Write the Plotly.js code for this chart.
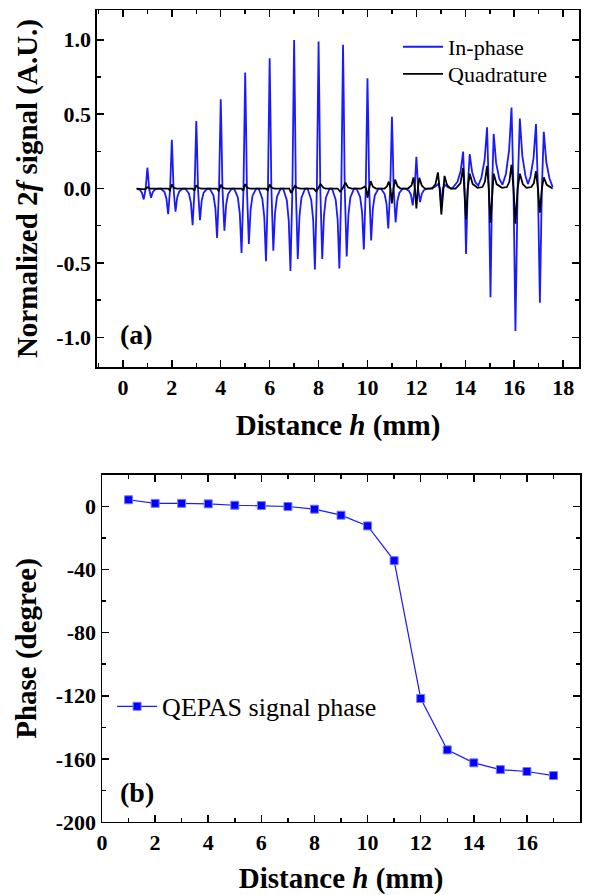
<!DOCTYPE html>
<html>
<head>
<meta charset="utf-8">
<script src="https://cdn.plot.ly/plotly-3.0.1.min.js"></script>
<style>
html,body{margin:0;padding:0;background:#fff;}
#chart{width:590px;height:895px;}
</style>
</head>
<body>
<div id="chart"></div>
<script>
// ---------- Panel (a): normalized 2f signal vs distance ----------
const inPhaseX = [
  0.56, 0.7, 0.78, 0.85, 0.93, 0.97, 1, 1.03, 1.07, 1.15, 1.22, 1.3, 1.45,
  1.55, 1.7, 1.78, 1.85, 1.93, 1.97, 2, 2.03, 2.07, 2.15, 2.22, 2.3, 2.45,
  2.55, 2.7, 2.78, 2.85, 2.93, 2.97, 3, 3.03, 3.07, 3.15, 3.22, 3.3, 3.45,
  3.55, 3.7, 3.78, 3.85, 3.93, 3.97, 4, 4.03, 4.07, 4.15, 4.22, 4.3, 4.45,
  4.55, 4.7, 4.78, 4.85, 4.93, 4.97, 5, 5.03, 5.07, 5.15, 5.22, 5.3, 5.45,
  5.55, 5.7, 5.78, 5.85, 5.93, 5.97, 6, 6.03, 6.07, 6.15, 6.22, 6.3, 6.45,
  6.55, 6.7, 6.78, 6.85, 6.93, 6.97, 7, 7.03, 7.07, 7.15, 7.22, 7.3, 7.45,
  7.55, 7.7, 7.78, 7.85, 7.93, 7.97, 8, 8.03, 8.07, 8.15, 8.22, 8.3, 8.45,
  8.55, 8.7, 8.78, 8.85, 8.93, 8.97, 9, 9.03, 9.07, 9.15, 9.22, 9.3, 9.45,
  9.55, 9.7, 9.78, 9.85, 9.93, 9.97, 10, 10.03, 10.07, 10.15, 10.22, 10.3, 10.45,
  10.55, 10.7, 10.78, 10.85, 10.93, 10.97, 11, 11.03, 11.07, 11.15, 11.22, 11.3, 11.45,
  11.55, 11.7, 11.78, 11.85, 11.93, 11.97, 12, 12.03, 12.07, 12.15, 12.22, 12.3, 12.45,
  12.55, 12.75, 12.89, 12.96, 13.02, 13.08, 13.15, 13.3, 13.46,
  13.68, 13.81, 13.91, 13.97, 14.03, 14.1, 14.18, 14.28, 14.41, 14.53,
  14.66, 14.79, 14.89, 14.96, 15.03, 15.095, 15.16, 15.26, 15.39, 15.52,
  15.66, 15.79, 15.89, 15.97, 16.05, 16.14, 16.23, 16.33, 16.46, 16.56,
  16.66, 16.79, 16.89, 16.97, 17.05, 17.13, 17.21, 17.31, 17.44, 17.57
];
const inPhaseY = [
  0, -0.01, -0.03, -0.073, 0, 0.09, 0.14, 0.09, 0, -0.062, -0.025, -0.008, 0,
  0, -0.024, -0.068, -0.173, 0, 0.2, 0.327, 0.2, 0, -0.156, -0.06, -0.02, 0,
  0, -0.034, -0.096, -0.247, 0, 0.28, 0.453, 0.28, 0, -0.213, -0.083, -0.028, 0,
  0, -0.046, -0.13, -0.333, 0, 0.37, 0.6, 0.37, 0, -0.284, -0.11, -0.037, 0,
  0, -0.06, -0.17, -0.433, 0, 0.48, 0.78, 0.48, 0, -0.373, -0.145, -0.048, 0,
  0, -0.068, -0.19, -0.489, 0, 0.54, 0.875, 0.54, 0, -0.418, -0.163, -0.055, 0,
  0, -0.077, -0.216, -0.555, 0, 0.62, 0.998, 0.62, 0, -0.473, -0.184, -0.062, 0,
  0, -0.076, -0.212, -0.544, 0, 0.61, 0.989, 0.61, 0, -0.473, -0.184, -0.062, 0,
  0, -0.075, -0.21, -0.538, 0, 0.6, 0.967, 0.6, 0, -0.456, -0.178, -0.06, 0,
  0, -0.057, -0.16, -0.409, 0, 0.46, 0.742, 0.46, 0, -0.349, -0.136, -0.046, 0,
  0, -0.037, -0.105, -0.269, 0, 0.3, 0.482, 0.3, 0, -0.227, -0.088, -0.03, 0,
  0, -0.016, -0.044, -0.113, 0, 0.13, 0.213, 0.13, 0, -0.091, -0.035, -0.012, 0,
  0, 0.01, 0.03, 0, -0.12, 0, 0.025, 0.008, 0,
  0.045, 0.117, 0.249, 0, -0.44, 0, 0.231, 0.109, 0.042, 0.02,
  0.074, 0.193, 0.411, 0, -0.731, 0, 0.367, 0.172, 0.066, 0.025,
  0.098, 0.256, 0.544, 0, -0.958, 0, 0.471, 0.221, 0.085, 0.03,
  0.078, 0.204, 0.433, 0, -0.767, 0, 0.382, 0.18, 0.069, 0.01
];
const quadX = [
  0.56,
  0.9, 1.0, 1.1,
  1.85, 1.92, 2.0, 2.08, 2.2,
  2.85, 2.92, 3.0, 3.08, 3.2,
  3.85, 3.92, 4.0, 4.08, 4.2,
  4.85, 4.92, 5.0, 5.08, 5.2,
  5.85, 5.92, 6.0, 6.08, 6.2,
  6.8, 6.88, 6.96, 7.03, 7.12, 7.25,
  7.8, 7.9, 7.98, 8.08, 8.2, 8.3,
  8.78, 8.88, 8.98, 9.1, 9.2, 9.35,
  9.75, 9.88, 9.95, 10.0, 10.07, 10.13, 10.22, 10.35,
  10.7, 10.8, 10.87, 10.94, 11.0, 11.06, 11.13, 11.22, 11.35,
  11.65, 11.8, 11.88, 11.94, 12.0, 12.06, 12.12, 12.22, 12.35,
  12.65, 12.78, 12.88, 12.95, 13.02, 13.09, 13.15, 13.25, 13.4,
  13.6, 13.8, 13.91, 13.97, 14.03, 14.1, 14.18, 14.3, 14.5,
  14.7, 14.8, 14.89, 14.96, 15.03, 15.1, 15.16, 15.28, 15.5,
  15.7, 15.8, 15.89, 15.97, 16.05, 16.14, 16.23, 16.35, 16.5,
  16.7, 16.8, 16.89, 16.97, 17.05, 17.13, 17.21, 17.33, 17.57
];
const quadY = [
  0,
  -0.005, 0.008, 0,
  0, -0.012, 0.027, 0.005, 0,
  0, -0.015, 0.022, 0.005, 0,
  0, -0.018, 0.025, 0.005, 0,
  0, -0.015, 0.03, 0.005, 0,
  0, -0.015, 0.027, 0.005, 0,
  0, -0.03, 0, 0.018, 0.005, 0,
  0, -0.018, 0, 0.03, 0.005, 0,
  0, -0.02, 0, 0.04, 0.008, 0,
  0, 0.012, 0, -0.062, 0, 0.05, 0.012, 0,
  0, 0.015, 0.046, 0, -0.1, 0, 0.06, 0.018, 0,
  0, 0.02, 0.075, 0, -0.133, 0, 0.072, 0.02, 0,
  0, 0.03, 0.108, 0, -0.175, 0, 0.085, 0.025, 0,
  0, 0.035, 0.138, 0, -0.207, 0, 0.1, 0.03, 0.005,
  0.01, 0.045, 0.153, 0, -0.229, 0, 0.1, 0.03, 0.005,
  0.01, 0.045, 0.16, 0, -0.236, 0, 0.1, 0.03, 0.005,
  0.01, 0.035, 0.116, 0, -0.162, 0, 0.075, 0.025, 0
];
const yTickValsA = [-1.0, -0.5, 0.0, 0.5, 1.0];
const yTickTextA = ['-1.0', '-0.5', '0.0', '0.5', '1.0'];

// ---------- Panel (b): QEPAS signal phase ----------
const distance = [1, 2, 3, 4, 5, 6, 7, 8, 9, 10, 11, 12, 13, 14, 15, 16, 17];
const phaseDeg = [4.3, 2, 2, 1.7, 0.8, 0.6, 0, -1.7, -5.5, -12.3, -34.3, -121.7, -154.3, -162.5, -166.8, -168, -170.6];
const yTickValsB = [-200, -160, -120, -80, -40, 0];
const yTickTextB = ['-200', '-160', '-120', '-80', '-40', '0'];
const xTickVals = [0, 2, 4, 6, 8, 10, 12, 14, 16, 18];

const FONT = 'Liberation Serif';
const BLUE = '#1a1aff';

const traces = [
  {x: inPhaseX, y: inPhaseY, xaxis: 'x', yaxis: 'y', type: 'scatter', mode: 'lines',
   name: 'In-phase', line: {color: BLUE, width: 1.8}, legend: 'legend'},
  {x: quadX, y: quadY, xaxis: 'x', yaxis: 'y', type: 'scatter', mode: 'lines',
   name: 'Quadrature', line: {color: '#000000', width: 1.8}, legend: 'legend3'},
  {x: distance, y: phaseDeg, xaxis: 'x2', yaxis: 'y2', type: 'scatter', mode: 'lines+markers',
   name: 'QEPAS signal phase', line: {color: BLUE, width: 1.2},
   marker: {symbol: 'square', size: 8, color: '#0000ff', line: {color: '#7a7aff', width: 1}},
   legend: 'legend2'}
];

const tickFont = {family: FONT, size: 22, color: '#000', weight: 'bold'};
const titleFont = {family: FONT, size: 29, color: '#000', weight: 'bold'};
const axisCommon = {
  showline: true, linecolor: '#000', linewidth: 1.5, mirror: 'ticks',
  ticks: 'inside', ticklen: 7, tickwidth: 1.5, tickcolor: '#000',
  showgrid: false, zeroline: false, tickfont: tickFont
};
const legendCommon = {
  xanchor: 'left', yanchor: 'top', bgcolor: 'rgba(0,0,0,0)', borderwidth: 0, itemwidth: 40
};

const layout = {
  width: 590, height: 895,
  margin: {l: 0, r: 0, t: 0, b: 0},
  paper_bgcolor: '#fff', plot_bgcolor: '#fff',
  font: {family: FONT, color: '#000'},
  showlegend: true,
  xaxis: Object.assign({}, axisCommon, {
    domain: [0.1644, 0.9814], anchor: 'y', range: [-1.06, 18.65],
    tickvals: xTickVals, ticktext: xTickVals.map(String),
    minor: {ticks: 'inside', ticklen: 4, tickwidth: 1.5, tickcolor: '#000', dtick: 1, tick0: 0},
    title: {text: 'Distance <i>h</i> (mm)', font: titleFont, standoff: 16}
  }),
  yaxis: Object.assign({}, axisCommon, {
    domain: [0.5899, 0.9888], anchor: 'x', range: [-1.2, 1.2],
    tickvals: yTickValsA, ticktext: yTickTextA,
    minor: {ticks: 'inside', ticklen: 4, tickwidth: 1.5, tickcolor: '#000', dtick: 0.25, tick0: 0},
    title: {text: 'Normalized 2<i>f</i> signal (A.U.)', font: titleFont, standoff: 10}
  }),
  xaxis2: Object.assign({}, axisCommon, {
    domain: [0.1729, 0.9831], anchor: 'y2', range: [0, 18],
    tickvals: xTickVals, ticktext: xTickVals.map(String),
    minor: {ticks: 'inside', ticklen: 4, tickwidth: 1.5, tickcolor: '#000', dtick: 1, tick0: 0},
    title: {text: 'Distance <i>h</i> (mm)', font: titleFont, standoff: 14}
  }),
  yaxis2: Object.assign({}, axisCommon, {
    domain: [0.0816, 0.4693], anchor: 'x2', range: [-200, 20],
    tickvals: yTickValsB, ticktext: yTickTextB,
    minor: {ticks: 'inside', ticklen: 4, tickwidth: 1.5, tickcolor: '#000', dtick: 20, tick0: 0},
    title: {text: 'Phase (degree)', font: titleFont, standoff: 10}
  }),
  legend: Object.assign({}, legendCommon, {
    x: 0.6746, y: 0.971, font: {family: FONT, size: 22, color: '#000'}
  }),
  legend3: Object.assign({}, legendCommon, {
    x: 0.6746, y: 0.9408, font: {family: FONT, size: 22, color: '#000'}
  }),
  legend2: Object.assign({}, legendCommon, {
    x: 0.19, y: 0.237, font: {family: FONT, size: 26, color: '#000'}
  }),
  annotations: [
    {text: '(a)', xref: 'paper', yref: 'paper', x: 0.232, y: 0.626, xanchor: 'center', yanchor: 'middle',
     showarrow: false, font: {family: FONT, size: 28, color: '#000', weight: 'bold'}},
    {text: '(b)', xref: 'paper', yref: 'paper', x: 0.232, y: 0.114, xanchor: 'center', yanchor: 'middle',
     showarrow: false, font: {family: FONT, size: 28, color: '#000', weight: 'bold'}}
  ]
};

Plotly.newPlot('chart', traces, layout, {staticPlot: true, displayModeBar: false});
</script>
</body>
</html>
